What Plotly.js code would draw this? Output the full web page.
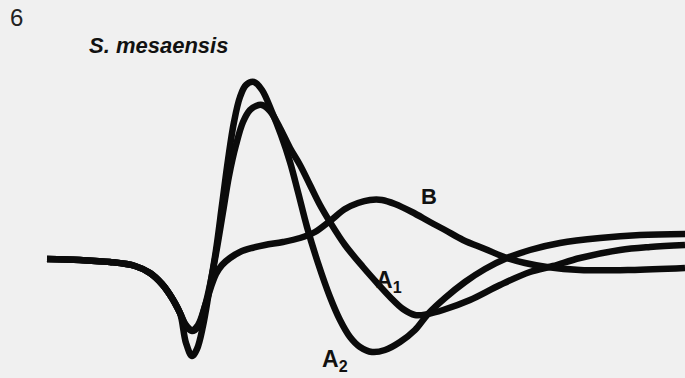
<!DOCTYPE html>
<html>
<head>
<meta charset="utf-8">
<script src="https://cdn.plot.ly/plotly-3.0.1.min.js"></script>
<style>
  html, body { margin: 0; padding: 0; background: #f0f0f0; }
  #chart { width: 685px; height: 378px; }
</style>
</head>
<body>
<div id="chart"></div>
<script>
// Waveform traces, sampled along the trace (x = time position, y = deflection, downward positive)
const baseX = [47, 80, 110, 135, 150, 162, 172, 180];
const baseY = [259, 260, 262, 266, 273, 284, 298, 313];

const a2X = [186, 192, 197, 203, 209, 216, 222, 228, 234, 240, 246, 254, 262, 272, 281, 290, 298, 307, 318, 330, 340, 350, 360, 372, 385, 400, 415, 428, 445, 465, 485, 507, 530, 560, 600, 640, 685];
const a2Y = [343, 356, 349, 326, 292, 250, 205, 160, 122, 97, 85, 82, 90, 112, 135, 162, 192, 227, 263, 297, 320, 337, 347, 352, 350, 342, 330, 314, 298, 282, 269, 258, 250, 243, 238, 235, 234];

const a1X = [186, 192, 198, 205, 211, 217, 223, 229, 236, 243, 250, 256, 262, 270, 280, 290, 300, 310, 320, 330, 345, 363, 378, 390, 403, 415, 428, 443, 470, 500, 530, 553, 580, 620, 650, 685];
const a1Y = [326, 331, 327, 306, 280, 248, 212, 176, 145, 122, 110, 106, 105, 111, 128, 148, 165, 185, 205, 222, 245, 267, 284, 297, 309, 315, 314, 310, 300, 285, 272, 266, 258, 250, 247, 245];

const bX = [186, 192, 198, 205, 211, 216, 222, 230, 240, 252, 265, 283, 300, 315, 330, 345, 358, 370, 382, 395, 412, 430, 445, 463, 485, 507, 525, 547, 580, 630, 685];
const bY = [325, 330, 325, 306, 287, 274, 265, 258, 252, 248, 245, 242, 238, 232, 221, 209, 203, 200, 200, 204, 212, 222, 230, 240, 249, 258, 263, 267, 270, 270, 268];

const seriesNames = ['A₂', 'A₁', 'B'];

const lineStyle = { color: '#0b0b0b', width: 6.5, shape: 'spline', smoothing: 1 };

function trace(name, xs, ys) {
  return {
    type: 'scatter',
    mode: 'lines',
    name: name,
    x: baseX.concat(xs),
    y: baseY.concat(ys),
    line: lineStyle,
    hoverinfo: 'skip'
  };
}

const data = [
  trace(seriesNames[0], a2X, a2Y),
  trace(seriesNames[1], a1X, a1Y),
  trace(seriesNames[2], bX, bY)
];

const family = 'Liberation Sans, Arial, sans-serif';

const layout = {
  width: 685,
  height: 378,
  margin: { l: 0, r: 0, t: 0, b: 0 },
  paper_bgcolor: '#f0f0f0',
  plot_bgcolor: '#f0f0f0',
  showlegend: false,
  xaxis: { range: [0, 685], visible: false, fixedrange: true },
  yaxis: { range: [378, 0], visible: false, fixedrange: true },
  annotations: [
    { x: 8, y: 17, xanchor: 'left', yanchor: 'middle', showarrow: false,
      text: '6', font: { family: family, size: 24, color: '#222' } },
    { x: 87, y: 45, xanchor: 'left', yanchor: 'middle', showarrow: false,
      text: '<b><i>S. mesaensis</i></b>', font: { family: family, size: 22, color: '#111' } },
    { x: 419, y: 196, xanchor: 'left', yanchor: 'middle', showarrow: false,
      text: '<b>B</b>', font: { family: family, size: 22, color: '#111' } },
    { x: 374, y: 281, xanchor: 'left', yanchor: 'middle', showarrow: false,
      text: '<b>A<sub>1</sub></b>', font: { family: family, size: 23, color: '#111' } },
    { x: 320, y: 360, xanchor: 'left', yanchor: 'middle', showarrow: false,
      text: '<b>A<sub>2</sub></b>', font: { family: family, size: 23, color: '#111' } }
  ]
};

Plotly.newPlot('chart', data, layout, { staticPlot: true, displayModeBar: false });
</script>
</body>
</html>
